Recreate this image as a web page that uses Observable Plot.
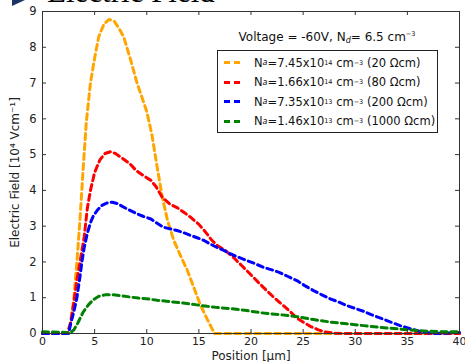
<!DOCTYPE html>
<html><head><meta charset="utf-8">
<script src="https://cdn.jsdelivr.net/npm/d3@7"></script>
<script src="https://cdn.jsdelivr.net/npm/@observablehq/plot@0.6"></script>
<style>
html,body{margin:0;padding:0;background:#fff;}
#wrap{position:relative;width:465px;height:362px;overflow:hidden;font-family:"DejaVu Sans",sans-serif;}
#wrap svg{position:absolute;left:0;top:0;}
#title{position:absolute;left:47px;top:-24px;font-family:"Liberation Serif",serif;font-size:31px;color:#000;white-space:nowrap;line-height:1;z-index:2;}
#bullet{position:absolute;left:12px;top:-6px;width:0;height:0;border-top:6px solid transparent;border-bottom:6px solid transparent;border-left:13px solid #1c3463;z-index:2;}
#legtitle{position:absolute;left:217px;width:220px;top:30px;text-align:center;font-size:12px;color:#111;white-space:nowrap;z-index:2;}
#legend{position:absolute;left:217px;top:50px;width:219px;height:81px;border:1px solid #222;background:#fff;z-index:2;box-sizing:content-box;}
.item{position:absolute;left:0;height:19px;display:flex;align-items:center;font-size:11.5px;color:#111;white-space:nowrap;}
.sw{display:inline-block;width:18px;height:3px;margin-left:6px;margin-right:12px;}
sup{font-size:6.5px;vertical-align:5px;}
sub{font-size:8px;font-style:italic;vertical-align:-2px;}
</style></head>
<body>
<div id="wrap">
  <div id="bullet"></div>
  <div id="title">Electric Field</div>
  <div id="legtitle"></div>
  <div id="legend"></div>
</div>
<script>
// ---- data ----
const seriesColors = ["orange", "red", "blue", "green"];
const seriesDensity = ["7.45", "1.66", "7.35", "1.46"];
const seriesExponent = ["14", "14", "13", "13"];
const seriesResistivity = ["20", "80", "200", "1000"];
const legendTitleText = ["Voltage = -60V, N", "d", "= 6.5 cm", "\u22123"];

const orangeX = [0, 2.4, 2.7, 3.0, 3.3, 3.6, 3.9, 4.2, 4.6, 5.0, 5.4, 5.9, 6.4, 6.9, 7.4, 7.8, 8.4, 9.1, 9.6, 10.0, 10.5, 11.0, 11.5, 12.0, 12.6, 13.2, 13.9, 14.5, 15.1, 15.8, 16.5, 20, 25, 30, 35, 40];
const orangeY = [0, 0, 0.32, 0.95, 2.0, 3.2, 4.6, 5.9, 7.0, 7.7, 8.3, 8.65, 8.78, 8.72, 8.5, 8.28, 7.7, 6.97, 6.55, 6.2, 5.55, 4.65, 3.8, 3.15, 2.6, 2.2, 1.76, 1.3, 0.83, 0.4, 0, 0, 0, 0, 0, 0];

const redX = [0, 2.4, 2.7, 3.0, 3.3, 3.6, 4.0, 4.3, 4.6, 5.0, 5.5, 6.0, 6.5, 7.0, 7.5, 8.4, 9.0, 9.7, 10.4, 10.9, 11.5, 12.2, 12.9, 13.6, 14.2, 15.0, 15.6, 16.2, 16.8, 17.5, 18.3, 19.1, 19.9, 20.7, 21.5, 22.3, 23.1, 23.8, 24.4, 25.1, 25.7, 26.4, 27.0, 28.0, 29, 40];
const redY = [0, 0, 0.3, 0.85, 1.5, 2.0, 2.7, 3.5, 4.0, 4.5, 4.85, 5.03, 5.08, 5.03, 4.93, 4.74, 4.55, 4.41, 4.28, 4.1, 3.8, 3.62, 3.52, 3.38, 3.25, 3.05, 2.85, 2.62, 2.45, 2.33, 2.13, 1.9, 1.67, 1.43, 1.2, 0.98, 0.78, 0.6, 0.43, 0.3, 0.2, 0.11, 0.05, 0.01, 0, 0];

const blueX = [0, 2.5, 2.7, 3.0, 3.3, 3.6, 3.8, 4.0, 4.3, 4.6, 4.9, 5.3, 5.7, 6.2, 6.7, 7.2, 7.8, 8.4, 9.1, 9.7, 10.4, 11.0, 11.6, 12.3, 12.9, 13.6, 14.2, 14.9, 15.5, 16.1, 16.7, 17.4, 18.0, 18.8, 19.6, 20.4, 21.2, 22.0, 22.7, 23.5, 24.4, 25.2, 26.0, 26.8, 27.6, 28.4, 29.2, 30.0, 30.8, 31.6, 32.5, 33.4, 34.3, 35.3, 36.2, 37.2, 38.0, 40];
const blueY = [0, 0, 0.27, 0.6, 1.0, 1.6, 2.04, 2.4, 2.8, 3.1, 3.3, 3.46, 3.58, 3.65, 3.67, 3.63, 3.53, 3.44, 3.34, 3.27, 3.2, 3.08, 2.97, 2.92, 2.88, 2.81, 2.74, 2.67, 2.6, 2.5, 2.41, 2.32, 2.23, 2.13, 2.04, 1.95, 1.85, 1.78, 1.71, 1.6, 1.48, 1.33, 1.2, 1.08, 0.97, 0.88, 0.78, 0.7, 0.62, 0.52, 0.42, 0.32, 0.22, 0.13, 0.06, 0.01, 0, 0.03];

const greenX = [0, 2.3, 2.6, 3.0, 3.4, 3.9, 4.4, 4.9, 5.4, 6.0, 6.8, 7.6, 8.4, 9.2, 10.0, 11.0, 12.3, 13.5, 14.8, 15.8, 16.7, 18.2, 19.6, 21.2, 22.7, 24.4, 26.0, 27.6, 29.2, 30.8, 32.4, 34.0, 35.6, 37.2, 38.5, 40];
const greenY = [0.05, 0.03, 0, 0.1, 0.3, 0.6, 0.8, 0.95, 1.04, 1.08, 1.08, 1.05, 1.02, 0.99, 0.97, 0.93, 0.89, 0.85, 0.8, 0.76, 0.73, 0.69, 0.64, 0.57, 0.53, 0.47, 0.39, 0.32, 0.27, 0.22, 0.17, 0.13, 0.09, 0.06, 0.05, 0.05];

const xTicks = [0, 5, 10, 15, 20, 25, 30, 35, 40];
const yTicks = [0, 1, 2, 3, 4, 5, 6, 7, 8, 9];

// ---- build ----
const seriesXs = [orangeX, redX, blueX, greenX];
const seriesYs = [orangeY, redY, blueY, greenY];
const rows = [];
seriesColors.forEach((c, i) => seriesXs[i].forEach((xv, j) => rows.push({x: xv, y: seriesYs[i][j], s: c})));

const W = 465, H = 362, mL = 42, mR = 6, mT = 11, mB = 29;
const innerW = W - mL - mR, innerH = H - mT - mB;
const frameColor = "#333";

const chart = Plot.plot({
  width: W, height: H,
  marginLeft: mL, marginRight: mR, marginTop: mT, marginBottom: mB,
  style: {fontFamily: "DejaVu Sans, sans-serif", fontSize: "11px", color: "#222", background: "transparent", overflow: "visible"},
  x: {domain: [0, 40]},
  y: {domain: [0, 9]},
  marks: [
    ...seriesColors.map(c => Plot.line(rows.filter(r => r.s === c), {x: "x", y: "y", stroke: c, strokeWidth: 3, strokeDasharray: "6,4", curve: "linear"})),
    Plot.frame({stroke: frameColor, strokeWidth: 1}),
    Plot.ruleX(xTicks, {x: d => d, stroke: frameColor, insetTop: innerH - 4}),
    Plot.ruleX(xTicks, {x: d => d, stroke: frameColor, insetBottom: innerH - 4}),
    Plot.ruleY(yTicks, {y: d => d, stroke: frameColor, insetRight: innerW - 4}),
    Plot.ruleY(yTicks, {y: d => d, stroke: frameColor, insetLeft: innerW - 4}),
    Plot.axisX({ticks: xTicks, tickSize: 0, tickPadding: 4, fontSize: 11, tickFormat: d => String(d), label: null}),
    Plot.axisX({ticks: [], tickSize: 0, label: "Position [\u03bcm]", labelAnchor: "center", labelArrow: "none", labelOffset: 26, fontSize: 12}),
    Plot.axisY({ticks: yTicks, tickSize: 0, tickPadding: 6, fontSize: 11.5, tickFormat: d => String(d), label: null}),
    Plot.axisY({ticks: [], tickSize: 0, label: "Electric Field [10\u2074 Vcm\u207b\u00b9]", labelAnchor: "center", labelArrow: "none", labelOffset: 32, fontSize: 12})
  ]
});
document.getElementById("wrap").prepend(chart);

// legend
document.getElementById("legtitle").innerHTML =
  legendTitleText[0] + "<sub>" + legendTitleText[1] + "</sub>" + legendTitleText[2] + "<sup>" + legendTitleText[3] + "</sup>";
const leg = document.getElementById("legend");
seriesColors.forEach((c, i) => {
  const it = document.createElement("div");
  it.className = "item";
  it.style.top = (2 + i * 19.5) + "px";
  it.innerHTML = `<span class="sw" style="background:repeating-linear-gradient(to right, ${c} 0 6px, transparent 6px 10px)"></span>` +
    `N<sub>a</sub>=${seriesDensity[i]}x10<sup>${seriesExponent[i]}</sup>&nbsp;cm<sup>\u22123</sup>&nbsp;(${seriesResistivity[i]} \u03a9cm)`;
  leg.appendChild(it);
});
</script>
</body></html>
